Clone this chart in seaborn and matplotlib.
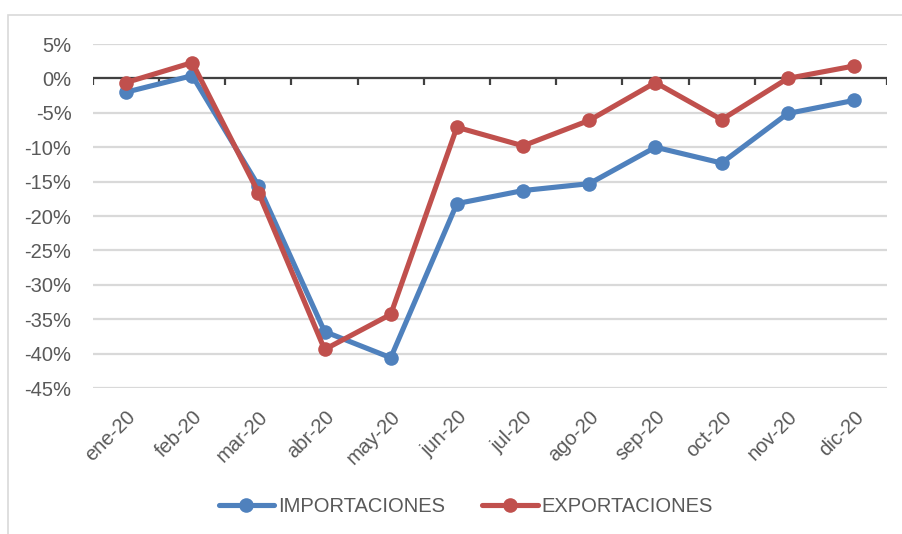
import numpy as np
import pandas as pd
import matplotlib
matplotlib.use("Agg")
import matplotlib.pyplot as plt
import seaborn as sns
from matplotlib.patches import Rectangle
from matplotlib.lines import Line2D
from matplotlib.ticker import PercentFormatter

months = ["ene-20", "feb-20", "mar-20", "abr-20", "may-20", "jun-20",
          "jul-20", "ago-20", "sep-20", "oct-20", "nov-20", "dic-20"]
importaciones = [-2.0, 0.4, -15.6, -36.8, -40.6, -18.2, -16.3, -15.3, -10.0, -12.3, -5.1, -3.2]
exportaciones = [-0.6, 2.3, -16.6, -39.4, -34.3, -7.1, -9.8, -6.1, -0.6, -6.0, 0.0, 1.8]
series_names = ["IMPORTACIONES", "EXPORTACIONES"]
yticks = list(range(-45, 10, 5))

df = pd.DataFrame({"mes": months, series_names[0]: importaciones, series_names[1]: exportaciones})
long = df.melt(id_vars="mes", var_name="serie", value_name="valor")

sns.set_theme(style="white")
plt.rcParams["font.family"] = ["Liberation Sans", "DejaVu Sans"]
plt.rcParams["axes.unicode_minus"] = False

W, H = 902, 534
fig = plt.figure(figsize=(W / 100, H / 100), dpi=100)
ax = fig.add_axes([93 / W, 1 - 388 / H, (887 - 93) / W, (388 - 44) / H])

# chart frame
fig.patches.append(Rectangle((8 / W, -0.05), 1.2, 1 - 15 / H + 0.05, transform=fig.transFigure,
                             fill=False, edgecolor="#D9D9D9", linewidth=1.2, zorder=0))

palette = {series_names[0]: "#4F81BD", series_names[1]: "#C0504D"}
sns.lineplot(data=long, x="mes", y="valor", hue="serie", palette=palette, sort=False,
             marker="o", markersize=10.5, markeredgewidth=0, linewidth=3.7, ax=ax, legend=False,
             zorder=3)

ax.set_ylim(-45, 5)
ax.set_xlim(-0.5, len(months) - 0.5)
ax.set_yticks(yticks)
ax.yaxis.set_major_formatter(PercentFormatter(decimals=0))
ax.grid(axis="y", color="#D9D9D9", linewidth=1.6, zorder=0)
ax.grid(axis="x", visible=False)
for s in ax.spines.values():
    s.set_visible(False)
ax.axhline(0, color="#404040", linewidth=1.6, zorder=2)
ax.vlines(np.arange(-0.5, len(months)), -1.0, 0, color="#404040", linewidth=1.6, zorder=2)

ax.set_xticks(range(len(months)))
ax.set_xticklabels(months, rotation=45, ha="right", rotation_mode="anchor")
ax.tick_params(axis="x", length=0, pad=14, labelsize=14.5, labelcolor="#595959")
ax.tick_params(axis="y", length=0, pad=15.5, labelsize=14.5, labelcolor="#595959")
ax.set_xlabel("")
ax.set_ylabel("")

handles = [Line2D([], [], color=palette[n], linewidth=3.7, marker="o", markersize=10.5,
                  markeredgewidth=0) for n in series_names]
fig.legend(handles, series_names, loc="center", bbox_to_anchor=(466 / W, 1 - 507 / H),
           ncol=2, frameon=False, fontsize=14.5, handlelength=2.75, columnspacing=1.85,
           handletextpad=0.2, labelcolor="#595959")

fig.savefig("out.png", dpi=100)
